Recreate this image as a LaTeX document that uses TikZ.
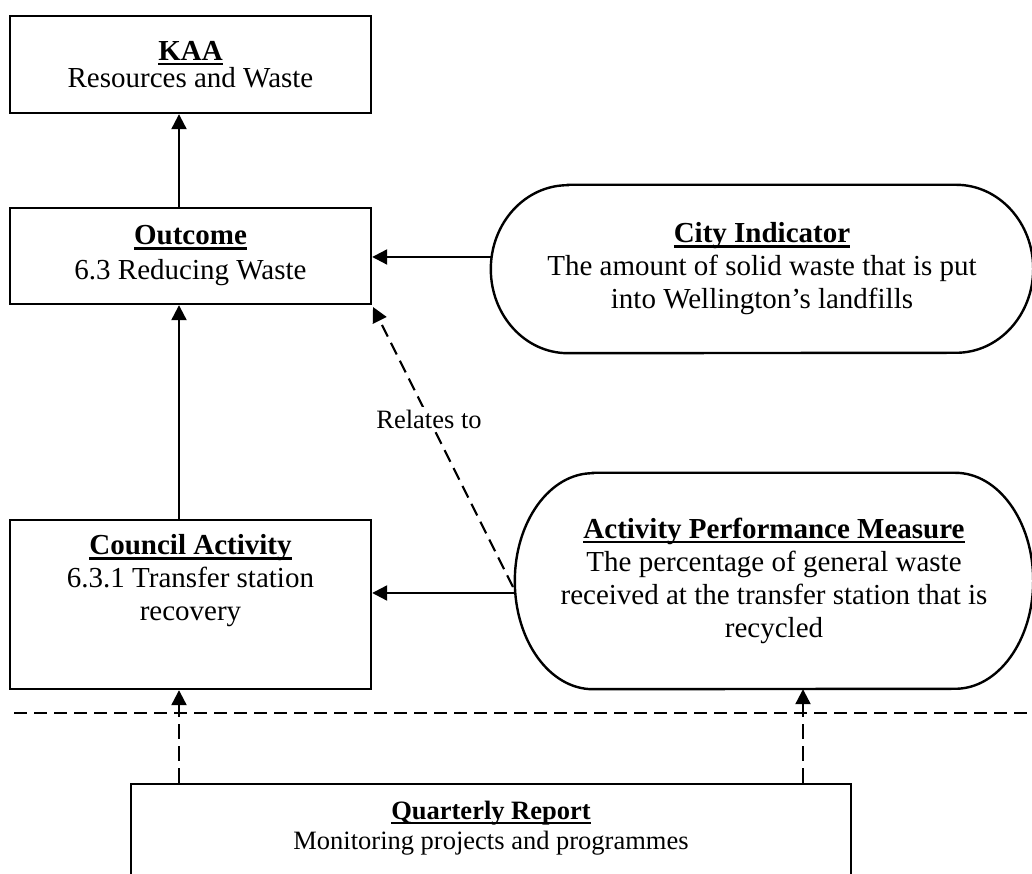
\documentclass[tikz,border=0pt]{standalone}
\usepackage{fontspec}
\setmainfont{Liberation Serif}
\usetikzlibrary{arrows.meta,calc}
\newcommand\dgbig{\fontsize{29}{33}\selectfont}
\newcommand\dgsmall{\fontsize{26.5}{30}\selectfont}
\newcommand\dgul[1]{\setbox0\hbox{#1}\rlap{\vrule width\wd0 height -2.5pt depth 4.8pt}\box0}
\begin{document}
\begin{tikzpicture}[x=1pt,y=1pt,
  box/.style={draw, line width=2.4pt, minimum width=361pt, inner sep=0pt, align=center, font=\dgbig},
  txt/.style={inner sep=0pt, align=center, font=\dgbig},
  arr/.style={line width=2.2pt, -{Triangle[width=15pt,length=15pt]}},
  dsh/.style={dash pattern=on 13pt off 7pt},
  oval/.style={line width=2.4pt}]
\useasboundingbox (0,0) rectangle (1032,874);
\clip (0,0) rectangle (1032,874);

% left column boxes
\node[box, minimum height=97pt] (kaa) at (190.5,809.5) {\dgul{\textbf{KAA}}\\[-6pt]Resources and Waste};
\node[box, minimum height=96pt] (outcome) at (190.5,618) {\dgul{\textbf{Outcome}}\\[2pt]6.3 Reducing Waste};
\node[box, minimum height=169pt] (council) at (190.5,269.5) {};
\node[txt] (councilT) at (190.5,293) {\dgul{\textbf{Council Activity}}\\6.3.1 Transfer station\\recovery};

% City indicator
\node[txt, minimum width=542pt, minimum height=168pt] (city) at (762,605)
  {\dgul{\textbf{City Indicator}}\\The amount of solid waste that is put\\into Wellington’s landfills};
\draw[oval] ($(city.north west)+(77,0)$) -- ($(city.north east)+(-77,0)$)
  arc[start angle=90, end angle=-90, x radius=77, y radius=84]
  -- ($(city.south west)+(77,0)$)
  arc[start angle=270, end angle=90, x radius=77, y radius=84] -- cycle;

% Activity performance measure
\node[txt, minimum width=518pt, minimum height=216pt] (apm) at (774,293)
  {\dgul{\textbf{Activity Performance Measure}}\\The percentage of general waste\\received at the transfer station that is\\recycled};
\draw[oval] ($(apm.north west)+(78,0)$) -- ($(apm.north east)+(-78,0)$)
  arc[start angle=90, end angle=-90, x radius=78, y radius=108]
  -- ($(apm.south west)+(78,0)$)
  arc[start angle=270, end angle=90, x radius=78, y radius=108] -- cycle;

% Quarterly report
\node[box, minimum width=720pt, minimum height=116pt] (qr) at (491,32) {};
\node[txt, font=\dgsmall] (qrT) at (491,46) {\dgul{\textbf{Quarterly Report}}\\Monitoring projects and programmes};

% connectors
\draw[arr] ([xshift=-11.5pt]outcome.north) -- ([xshift=-11.5pt]kaa.south);
\draw[arr] ([xshift=-11.5pt]council.north) -- ([xshift=-11.5pt]outcome.south);
\coordinate (cityL) at (491.8,617);
\draw[arr] (cityL) -- (cityL -| outcome.east);
\coordinate (apmL) at (515.5,281);
\draw[arr] (apmL) -- (apmL -| council.east);
\coordinate (relS) at (513,287);
\coordinate (relE) at (373,567);
\draw[arr, dsh] (relS) -- node[pos=0.6, fill=white, font=\dgsmall, inner sep=3pt] (rel) {Relates to} (relE);

% separator
\coordinate (hl) at (14,161);
\coordinate (hr) at (1032,161);
\draw[line width=2.4pt, dsh] (hl) -- (hr);

\draw[arr, dash pattern=on 15pt off 7pt] ([xshift=-11.5pt]council.south |- qr.north) -- ([xshift=-11.5pt]council.south);
\draw[arr, dash pattern=on 15pt off 7pt] ([xshift=29pt]apm.south |- qr.north) -- ([xshift=29pt]apm.south);
\end{tikzpicture}
\end{document}
